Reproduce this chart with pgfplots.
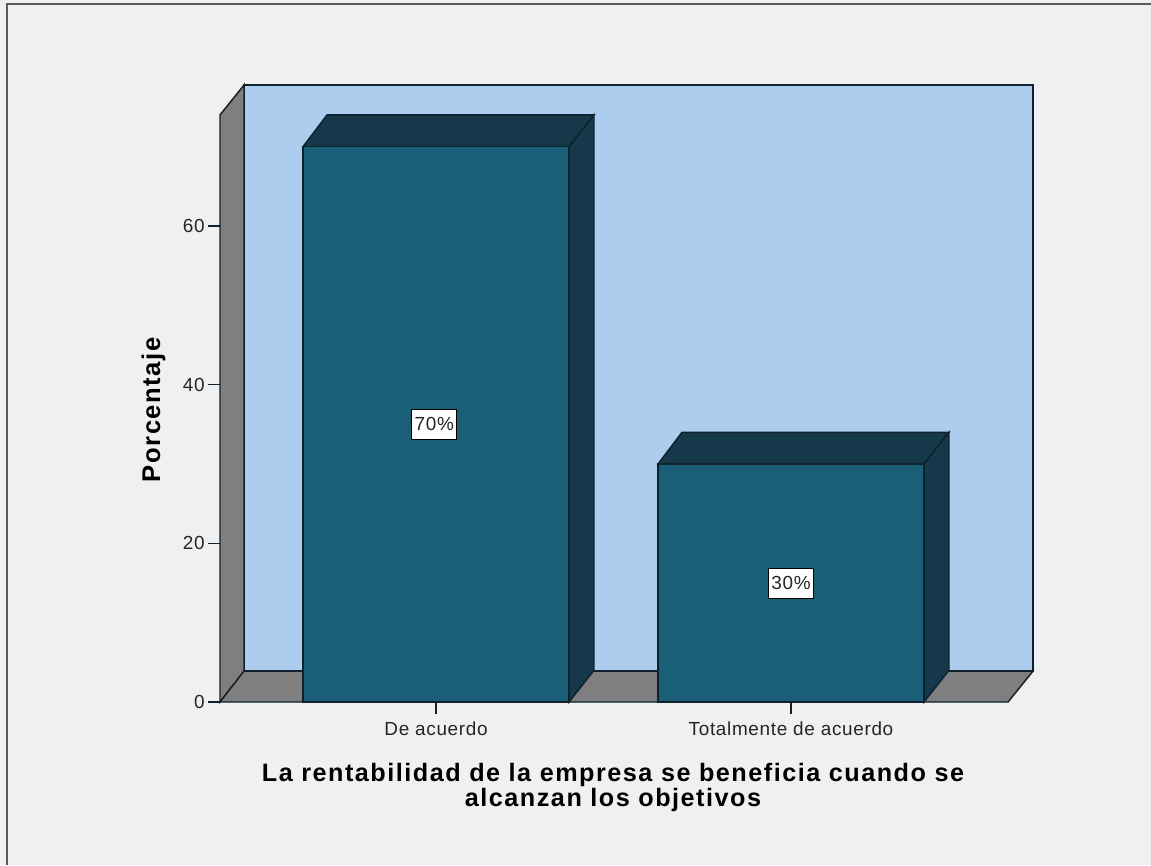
\documentclass[border=0pt]{standalone}
\usepackage{fontspec}
\setmainfont{Liberation Sans}
\usepackage{pgfplots}
\pgfplotsset{compat=1.18}
\definecolor{bgc}{HTML}{F0F0F0}
\definecolor{wallc}{HTML}{7F7F7F}
\definecolor{backc}{HTML}{ADCDEE}
\definecolor{barc}{HTML}{1B5E78}
\definecolor{bardk}{HTML}{15394A}
\definecolor{linec}{HTML}{10202C}
\begin{document}
\begin{tikzpicture}
\useasboundingbox (0,0) rectangle (863.25pt,648.75pt);
\fill[bgc] (0,0) rectangle (863.25pt,648.75pt);
\draw[color=black!65,line width=1.5pt] (5.6pt,0) -- (5.6pt,645.4pt) -- (863.25pt,645.4pt);
\begin{axis}[
  at={(165pt,122.25pt)}, anchor=south west,
  scale only axis, width=609.75pt, height=462.75pt,
  xmin=-0.6085, xmax=1.6817, ymin=0, ymax=77.77,
  clip=false,
  axis line style={draw=none},
  xtick={0,1}, xticklabels={De acuerdo,Totalmente de acuerdo},
  ytick={0,20,40,60},
  xtick pos=left, ytick pos=left,
  tick align=outside,
  major tick length=9pt,
  tick style={color=linec,line width=0.8pt},
  /pgf/number format/assume math mode=true,
  tick label style={font=\fontsize{14.2}{16}\selectfont\addfontfeatures{LetterSpace=3.5},text=black!85},
  xticklabel style={yshift=-2.5pt},
  yticklabel style={xshift=1pt},
  xlabel={La rentabilidad de la empresa se beneficia cuando se\\alcanzan los objetivos},
  xlabel style={at={(axis description cs:0.4834,-0.1385)},anchor=center,align=center,
     font=\fontsize{18.9}{18.8}\selectfont\bfseries\addfontfeatures{LetterSpace=6}},
  ylabel={Porcentaje},
  ylabel style={at={(axis description cs:-0.0818,0.4735)},anchor=center,
     font=\fontsize{19.2}{20}\selectfont\bfseries\addfontfeatures{LetterSpace=6}},
]
% walls and floor
\addplot[fill=backc,draw=linec,line width=1.1pt] coordinates {(-0.5408,3.9)(1.6817,3.9)(1.6817,77.77)(-0.5408,77.77)} -- cycle;
\addplot[fill=wallc,draw=linec,line width=1.1pt] coordinates {(-0.6085,0)(-0.5408,3.9)(-0.5408,77.77)(-0.6085,74)} -- cycle;
\addplot[fill=wallc,draw=linec,line width=1.1pt] coordinates {(-0.6085,0)(1.6113,0)(1.6817,3.9)(-0.5408,3.9)} -- cycle;
% bar 1 top and side
\addplot[fill=bardk,draw=linec,line width=1.1pt] coordinates {(-0.3746,70)(-0.307,74)(0.445,74)(0.3746,70)} -- cycle;
\addplot[fill=bardk,draw=linec,line width=1.1pt] coordinates {(0.3746,0)(0.445,4)(0.445,74)(0.3746,70)} -- cycle;
% bar 2 top and side
\addplot[fill=bardk,draw=linec,line width=1.1pt] coordinates {(0.6254,30)(0.693,34)(1.445,34)(1.3746,30)} -- cycle;
\addplot[fill=bardk,draw=linec,line width=1.1pt] coordinates {(1.3746,0)(1.445,4)(1.445,34)(1.3746,30)} -- cycle;
% front faces
\addplot[ybar,bar width=199.5pt,fill=barc,draw=linec,line width=1.1pt] coordinates {(0,70)(1,30)};
% value labels
\addplot[only marks,mark=none,point meta=explicit symbolic,
  nodes near coords,
  nodes near coords style={anchor=center,fill=white,draw=black,line width=0.6pt,
    font=\fontsize{14.2}{16}\selectfont\addfontfeatures{LetterSpace=3.5},text=black!85,inner sep=2.2pt,minimum height=22.5pt}]
  coordinates {(-0.005,35)[70\%] (1,15)[30\%]};
\end{axis}
\end{tikzpicture}
\end{document}
